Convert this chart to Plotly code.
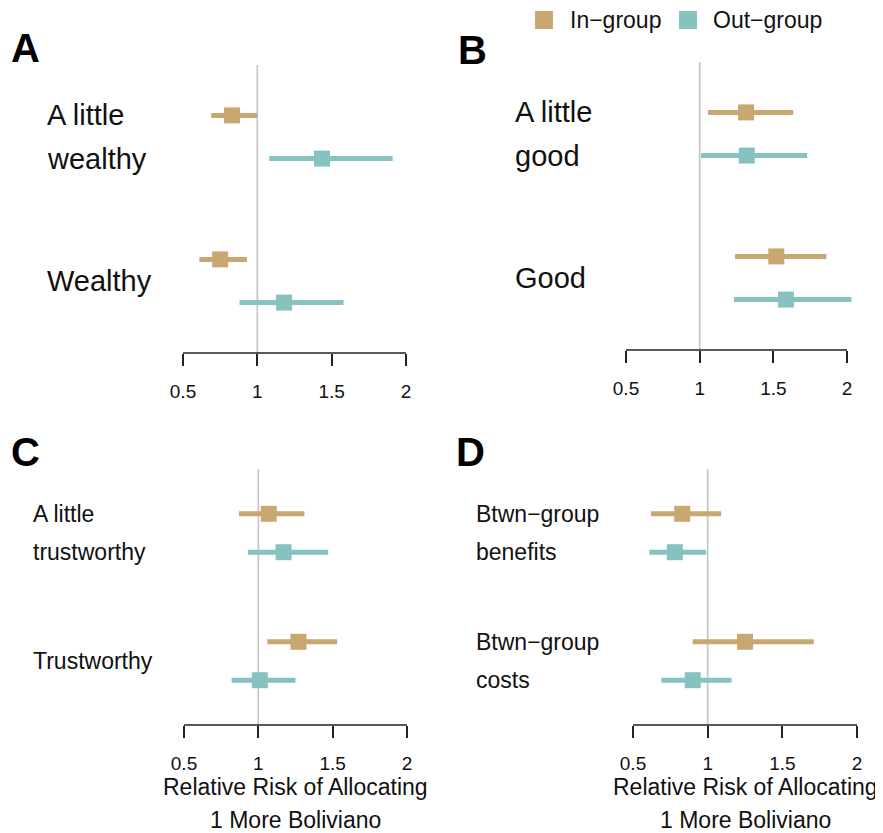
import plotly.graph_objects as go

W, H = 883, 833
SHIFT = 8  # page body margin offset
FONT = "Liberation Sans, Arial, Helvetica, sans-serif"
IN_COLOR = "#C8A870"
OUT_COLOR = "#86C3C0"

# ---------------- data ----------------
tick_vals = [0.5, 1, 1.5, 2]
tick_text = ["0.5", "1", "1.5", "2"]
series_names = ["In\u2212group", "Out\u2212group"]

a_labels = [["A little", "wealthy"], ["Wealthy"]]
a_in_est = [0.83, 0.75]
a_in_lo = [0.69, 0.61]
a_in_hi = [1.00, 0.93]
a_out_est = [1.435, 1.18]
a_out_lo = [1.08, 0.88]
a_out_hi = [1.91, 1.58]

b_labels = [["A little", "good"], ["Good"]]
b_in_est = [1.315, 1.52]
b_in_lo = [1.056, 1.24]
b_in_hi = [1.635, 1.86]
b_out_est = [1.32, 1.586]
b_out_lo = [1.01, 1.233]
b_out_hi = [1.73, 2.03]

c_labels = [["A little", "trustworthy"], ["Trustworthy"]]
c_in_est = [1.07, 1.27]
c_in_lo = [0.87, 1.06]
c_in_hi = [1.31, 1.53]
c_out_est = [1.17, 1.01]
c_out_lo = [0.93, 0.82]
c_out_hi = [1.47, 1.25]

d_labels = [["Btwn\u2212group", "benefits"], ["Btwn\u2212group", "costs"]]
d_in_est = [0.83, 1.25]
d_in_lo = [0.62, 0.90]
d_in_hi = [1.09, 1.71]
d_out_est = [0.78, 0.90]
d_out_lo = [0.61, 0.69]
d_out_hi = [0.99, 1.16]

x_title = ["Relative Risk of Allocating", "1 More Boliviano"]


def px_x(px):
    return (px - SHIFT) / W


def px_y(py):
    return 1 - (py - SHIFT) / H


# ---------------- layout geometry (pixels in the final picture) ----------------
panels = [
    dict(letter="A", labels=a_labels, ins=(a_in_est, a_in_lo, a_in_hi), outs=(a_out_est, a_out_lo, a_out_hi),
         xpx=(183, 406), ypx=(65, 353), label_x=45, label_size=29, letter_xy=(9, 48), title=False),
    dict(letter="B", labels=b_labels, ins=(b_in_est, b_in_lo, b_in_hi), outs=(b_out_est, b_out_lo, b_out_hi),
         xpx=(626, 847), ypx=(62, 350), label_x=513, label_size=29, letter_xy=(456, 50), title=False),
    dict(letter="C", labels=c_labels, ins=(c_in_est, c_in_lo, c_in_hi), outs=(c_out_est, c_out_lo, c_out_hi),
         xpx=(184, 407), ypx=(469, 725), label_x=31, label_size=23, letter_xy=(9, 452), title=True),
    dict(letter="D", labels=d_labels, ins=(d_in_est, d_in_lo, d_in_hi), outs=(d_out_est, d_out_lo, d_out_hi),
         xpx=(633, 857), ypx=(469, 725), label_x=474, label_size=23, letter_xy=(454, 452), title=True),
]

XR = (0.4, 2.12)
OFF = 0.15
group_pos = [1, 2]

fig = go.Figure()
annotations = []
shapes = []

for i, p in enumerate(panels):
    n = "" if i == 0 else str(i + 1)
    xa, ya = "x" + n, "y" + n
    ppu = (p["xpx"][1] - p["xpx"][0]) / (2.0 - 0.5)
    left_px = p["xpx"][0] - (0.5 - XR[0]) * ppu
    right_px = p["xpx"][1] + (XR[1] - 2.0) * ppu
    dom_x = [px_x(left_px), px_x(right_px)]
    dom_y = [px_y(p["ypx"][1]), px_y(p["ypx"][0])]

    fig.layout["xaxis" + n] = dict(
        domain=dom_x, range=list(XR), anchor=ya, tickvals=tick_vals, ticktext=tick_text,
        ticks="outside", ticklen=12, tickwidth=1.6, tickcolor="#222", showline=False,
        showgrid=False, zeroline=False, tickfont=dict(family=FONT, size=19, color="#111"),
        ticklabelstandoff=9, fixedrange=True)
    fig.layout["yaxis" + n] = dict(domain=dom_y, range=[2.5, 0.5], anchor=xa, visible=False,
                                   fixedrange=True)

    # reference line at 1 and the axis line
    shapes.append(dict(type="line", xref=xa, yref=ya + " domain", x0=1, x1=1, y0=0, y1=1,
                       line=dict(color="#C4C4C4", width=1.6), layer="below"))
    shapes.append(dict(type="line", xref=xa, yref=ya + " domain", x0=0.5, x1=2, y0=0, y1=0,
                       line=dict(color="#222", width=1.6), layer="above"))

    for s, (vals, color, sign) in enumerate([(p["ins"], IN_COLOR, -1), (p["outs"], OUT_COLOR, 1)]):
        est, lo, hi = vals
        fig.add_trace(go.Scatter(
            x=est, y=[g + sign * OFF for g in group_pos], xaxis=xa, yaxis=ya, mode="markers",
            marker=dict(symbol="square", size=16, color=color, line=dict(width=0)),
            error_x=dict(type="data", symmetric=False,
                         array=[h - e for h, e in zip(hi, est)],
                         arrayminus=[e - l for e, l in zip(est, lo)],
                         color=color, thickness=5, width=0),
            name=series_names[s], showlegend=False,
            cliponaxis=False, hoverinfo="x"))

    # row labels
    for g, lab in zip(group_pos, p["labels"]):
        ys = [g - OFF, g + OFF] if len(lab) == 2 else [g]
        for txt, yv in zip(lab, ys):
            annotations.append(dict(text=txt, xref="paper", yref=ya, x=px_x(p["label_x"]), y=yv,
                                    xanchor="left", yanchor="middle", showarrow=False,
                                    font=dict(family=FONT, size=p["label_size"], color="#111")))

    # panel letter
    annotations.append(dict(text="<b>%s</b>" % p["letter"], xref="paper", yref="paper",
                            x=px_x(p["letter_xy"][0]), y=px_y(p["letter_xy"][1]),
                            xanchor="left", yanchor="middle", showarrow=False,
                            font=dict(family=FONT, size=40, color="#000")))

    if p["title"]:
        cx = px_x((p["xpx"][0] + p["xpx"][1]) / 2)
        for txt, ypx in zip(x_title, [787, 820]):
            annotations.append(dict(text=txt, xref="paper", yref="paper", x=cx, y=px_y(ypx),
                                    xanchor="center", yanchor="middle", showarrow=False,
                                    font=dict(family=FONT, size=23, color="#111")))

# legend (key squares + labels)
legend_items = [(series_names[0], IN_COLOR, 535, 570), (series_names[1], OUT_COLOR, 679, 713)]
for name, color, sq_x, tx in legend_items:
    shapes.append(dict(type="rect", xref="paper", yref="paper",
                       x0=px_x(sq_x), x1=px_x(sq_x + 18), y0=px_y(29), y1=px_y(11),
                       fillcolor=color, line=dict(width=0)))
    annotations.append(dict(text=name, xref="paper", yref="paper", x=px_x(tx - 2), y=px_y(20),
                            xanchor="left", yanchor="middle", showarrow=False,
                            font=dict(family=FONT, size=23, color="#111")))

fig.update_layout(
    width=W, height=H, margin=dict(l=0, r=0, t=0, b=0),
    paper_bgcolor="white", plot_bgcolor="white",
    showlegend=False,
    annotations=annotations, shapes=shapes,
)

fig.write_html("out.html")
